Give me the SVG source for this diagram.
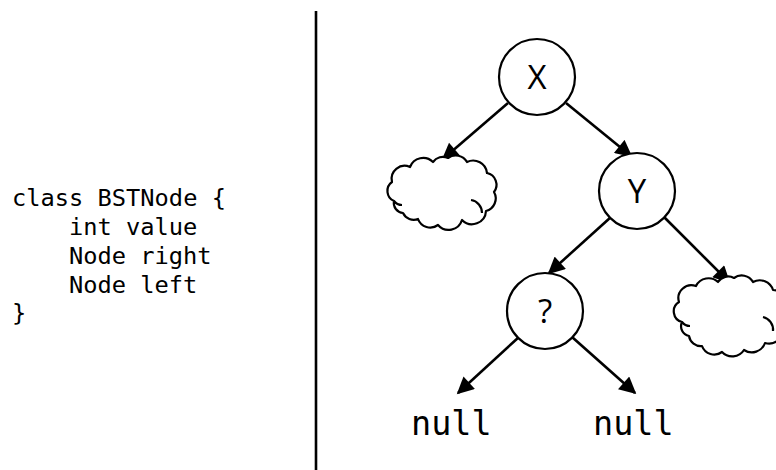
<svg xmlns="http://www.w3.org/2000/svg" width="776" height="470" viewBox="0 0 776 470">
  <style>
    .code { font-family: "DejaVu Sans Mono", "Liberation Mono", monospace; font-size: 23.7px; fill: #000; }
    .null { font-family: "DejaVu Sans Mono", "Liberation Mono", monospace; font-size: 33.5px; fill: #000; }
    .node circle { fill: #fff; stroke: #000; stroke-width: 2.2; }
    .node text { font-family: "Open Sans", "DejaVu Sans", sans-serif; font-size: 33px; fill: #000; text-anchor: middle; }
    .edge { stroke: #000; stroke-width: 2.6; fill: none; marker-end: url(#head); }
    .cloud { fill: #fff; stroke: #000; stroke-width: 2.2; stroke-linejoin: round; }
    .curl { fill: none; stroke: #000; stroke-width: 2.2; }
  </style>
  <defs>
    <marker id="head" viewBox="0 0 10 10" refX="9" refY="5" markerWidth="7" markerHeight="6.5" orient="auto" markerUnits="strokeWidth">
      <path d="M0,0 L10,5 L0,10 Z" fill="#000"/>
    </marker>
  </defs>

  <rect width="776" height="470" fill="#fff"/>

  <!-- class definition -->
  <g id="code">
    <text class="code" x="12" y="206" xml:space="preserve">class BSTNode {</text>
    <text class="code" x="69" y="235">int value</text>
    <text class="code" x="69" y="264">Node right</text>
    <text class="code" x="69" y="293">Node left</text>
    <text class="code" x="12" y="321">}</text>
  </g>

  <!-- divider -->
  <line id="divider" x1="316" y1="11" x2="316" y2="470" stroke="#000" stroke-width="2.6"/>

  <!-- connectors -->
  <g id="edges">
    <line class="edge" x1="508" y1="103" x2="443" y2="159"/>
    <line class="edge" x1="566" y1="103" x2="631" y2="156"/>
    <line class="edge" x1="611" y1="217" x2="549" y2="273"/>
    <line class="edge" x1="664" y1="217" x2="729" y2="282"/>
    <line class="edge" x1="519" y1="337" x2="458" y2="393"/>
    <line class="edge" x1="572" y1="337" x2="635" y2="393"/>
  </g>

  <!-- subtree clouds -->
  <g id="cloud-left">
    <path class="cloud" d="M394,201 A11,11 0 0 1 392,182 A13,13 0 0 1 410,167 A14,14 0 0 1 433,162 A12,12 0 0 1 448,158 A13,13 0 0 1 467,162 A14,14 0 0 1 487,173 A12,12 0 0 1 494,192 A13,13 0 0 1 486,211 A14,14 0 0 1 462,220 A14,14 0 0 1 438,225 A13,13 0 0 1 418,219 A12,12 0 0 1 403,213 A10,10 0 0 1 394,201 Z"/>
    <path class="curl" d="M471,200 A13,13 0 0 1 482,213"/>
    <path class="curl" d="M394,201 A10,10 0 0 0 402,205"/>
  </g>
  <g id="cloud-right">
    <path class="cloud" d="M682,322 A11,11 0 0 1 679,302 A13,13 0 0 1 696,286 A14,14 0 0 1 718,282 A12,12 0 0 1 734,278 A13,13 0 0 1 753,282 A14,14 0 0 1 773,290 A13,13 0 0 1 785,307 A13,13 0 0 1 783,329 A14,14 0 0 1 765,343 A14,14 0 0 1 744,350 A14,14 0 0 1 722,352 A13,13 0 0 1 702,346 A12,12 0 0 1 689,336 A10,10 0 0 1 682,322 Z"/>
    <path class="curl" d="M763,317 A13,13 0 0 1 773,331"/>
    <path class="curl" d="M682,322 A10,10 0 0 0 690,326"/>
  </g>

  <!-- tree nodes -->
  <g id="node-x" class="node">
    <circle cx="537" cy="77" r="38"/>
    <text x="537" y="89">X</text>
  </g>
  <g id="node-y" class="node">
    <circle cx="637" cy="191" r="38"/>
    <text x="637" y="203">Y</text>
  </g>
  <g id="node-q" class="node">
    <circle cx="545" cy="311" r="38"/>
    <text x="545" y="323">?</text>
  </g>

  <!-- null leaves -->
  <g id="null-left"><text class="null" x="411" y="435">null</text></g>
  <g id="null-right"><text class="null" x="593" y="435">null</text></g>
</svg>
